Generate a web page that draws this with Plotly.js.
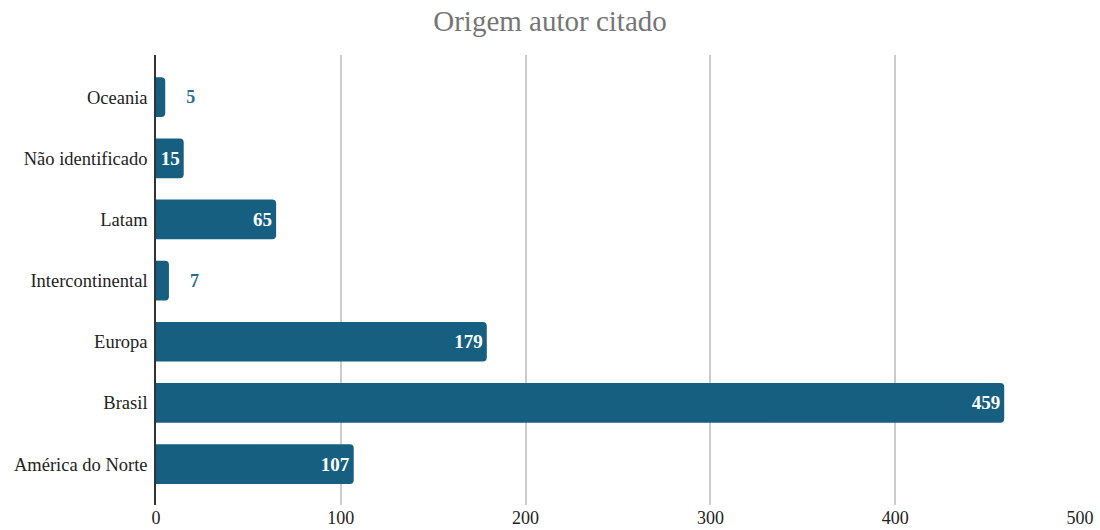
<!DOCTYPE html>
<html>
<head>
<meta charset="utf-8">
<script src="https://cdn.plot.ly/plotly-3.0.1.min.js"></script>
</head>
<body style="margin:0;padding:0;background:#fff">
<div id="chart" style="width:1100px;height:530px"></div>
<script>
const categories = ["América do Norte", "Brasil", "Europa", "Intercontinental", "Latam", "Não identificado", "Oceania"];
const values = [107, 459, 179, 7, 65, 15, 5];
const xTicks = [0, 100, 200, 300, 400, 500];

const SERIF = "Liberation Serif";
const positions = values.map(v => v < 10 ? "outside" : "inside");
const labels = values.map(v => v < 10 ? "    " + v : String(v));

const trace = {
  type: "bar",
  orientation: "h",
  y: categories,
  x: values,
  text: labels,
  textposition: positions,
  insidetextanchor: "end",
  textangle: 0,
  cliponaxis: false,
  insidetextfont: {family: SERIF, size: 19, color: "#ffffff", weight: 600},
  outsidetextfont: {family: SERIF, size: 18, color: "#2b6f90", weight: 600},
  marker: {color: "#175f80", cornerradius: 4},
  hoverinfo: "none"
};

const layout = {
  width: 1100, height: 530,
  margin: {l: 156, r: 20, t: 55, b: 25},
  paper_bgcolor: "#ffffff", plot_bgcolor: "#ffffff",
  font: {family: SERIF, size: 18, color: "#222"},
  title: {text: "Origem autor citado", x: 0.5, xanchor: "center", y: 0.98, yanchor: "top",
          font: {family: SERIF, size: 29, color: "#757575"}},
  bargap: 0.35,
  showlegend: false,
  xaxis: {range: [0, 500], tickvals: xTicks, ticktext: xTicks.map(String),
          showgrid: true, gridcolor: "#cccccc", gridwidth: 1.5, zeroline: false,
          showline: false, ticks: "", tickfont: {family: SERIF, size: 18, color: "#222"}, fixedrange: true},
  yaxis: {categoryorder: "array", categoryarray: categories, range: [-0.67, 6.69],
          showline: true, linecolor: "#333", linewidth: 1.5, showgrid: false, zeroline: false,
          ticks: "", ticklabelstandoff: 3, tickfont: {family: SERIF, size: 18.5, color: "#222"}, fixedrange: true}
};

Plotly.newPlot("chart", [trace], layout, {displayModeBar: false});
</script>
</body>
</html>
